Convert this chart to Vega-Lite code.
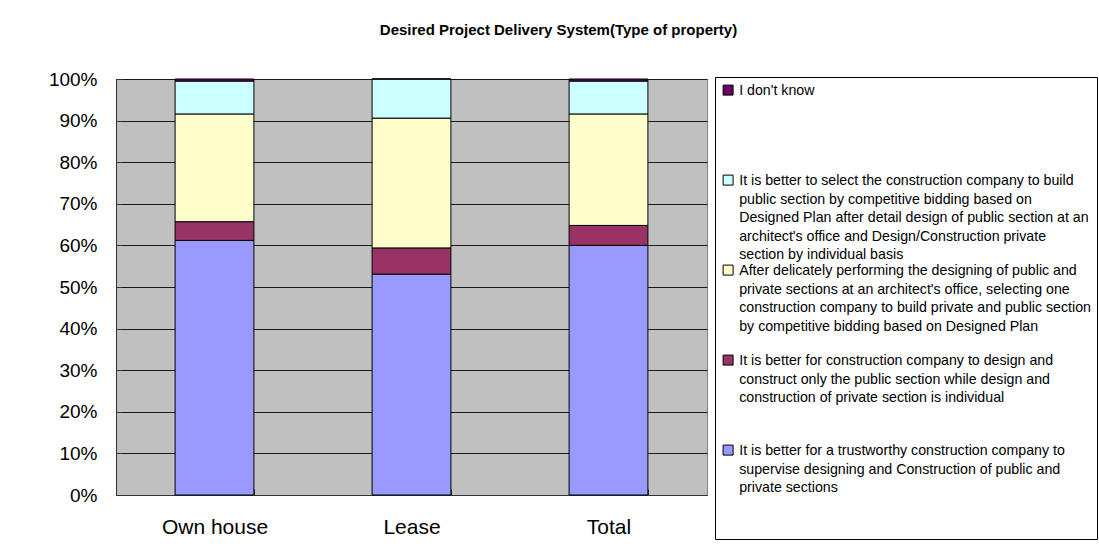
{
  "$schema": "https://vega.github.io/schema/vega-lite/v6.json",
  "width": 591,
  "height": 416,
  "autosize": "none",
  "padding": {"left": 116, "top": 79, "right": 392, "bottom": 55},
  "background": "white",
  "title": {
    "text": "Desired Project Delivery System(Type of property)",
    "anchor": "middle",
    "frame": "group",
    "dx": 147,
    "offset": 32,
    "font": "Liberation Sans",
    "fontSize": 15,
    "fontWeight": "bold",
    "color": "black"
  },
  "data": {
    "values": [
      {"property": "Own house", "response": "It is better for a trustworthy construction company to|supervise designing and Construction of public and|private sections", "order": 1, "value": 61.2},
      {"property": "Own house", "response": "It is better for construction company to design and|construct only the public section while design and|construction of private section is individual", "order": 2, "value": 4.5},
      {"property": "Own house", "response": "After delicately performing the designing of public and|private sections at an architect's office, selecting one|construction company to build private and public section|by competitive bidding based on Designed Plan", "order": 3, "value": 25.9},
      {"property": "Own house", "response": "It is better to select the construction company to build|public section by competitive bidding based on|Designed Plan after detail design of public section at an|architect's office and Design/Construction private|section by individual basis", "order": 4, "value": 7.9},
      {"property": "Own house", "response": "I don't know", "order": 5, "value": 0.5},
      {"property": "Lease", "response": "It is better for a trustworthy construction company to|supervise designing and Construction of public and|private sections", "order": 1, "value": 53.1},
      {"property": "Lease", "response": "It is better for construction company to design and|construct only the public section while design and|construction of private section is individual", "order": 2, "value": 6.3},
      {"property": "Lease", "response": "After delicately performing the designing of public and|private sections at an architect's office, selecting one|construction company to build private and public section|by competitive bidding based on Designed Plan", "order": 3, "value": 31.2},
      {"property": "Lease", "response": "It is better to select the construction company to build|public section by competitive bidding based on|Designed Plan after detail design of public section at an|architect's office and Design/Construction private|section by individual basis", "order": 4, "value": 9.4},
      {"property": "Lease", "response": "I don't know", "order": 5, "value": 0},
      {"property": "Total", "response": "It is better for a trustworthy construction company to|supervise designing and Construction of public and|private sections", "order": 1, "value": 60.0},
      {"property": "Total", "response": "It is better for construction company to design and|construct only the public section while design and|construction of private section is individual", "order": 2, "value": 4.8},
      {"property": "Total", "response": "After delicately performing the designing of public and|private sections at an architect's office, selecting one|construction company to build private and public section|by competitive bidding based on Designed Plan", "order": 3, "value": 26.8},
      {"property": "Total", "response": "It is better to select the construction company to build|public section by competitive bidding based on|Designed Plan after detail design of public section at an|architect's office and Design/Construction private|section by individual basis", "order": 4, "value": 7.9},
      {"property": "Total", "response": "I don't know", "order": 5, "value": 0.5}
    ]
  },
  "mark": {"type": "bar", "stroke": "black", "strokeWidth": 1},
  "encoding": {
    "x": {
      "field": "property",
      "type": "nominal",
      "sort": ["Own house", "Lease", "Total"],
      "scale": {"paddingInner": 0.6, "paddingOuter": 0.3},
      "axis": {
        "title": null,
        "labelAngle": 0,
        "tickBand": "extent",
        "tickSize": -6,
        "tickColor": "#333333",
        "domainColor": "#333333",
        "labelFont": "Liberation Sans",
        "labelFontSize": 21,
        "labelColor": "black",
        "labelPadding": 27
      }
    },
    "y": {
      "field": "value",
      "type": "quantitative",
      "stack": "zero",
      "scale": {"domain": [0, 100], "nice": false},
      "axis": {
        "title": null,
        "values": [0, 10, 20, 30, 40, 50, 60, 70, 80, 90, 100],
        "labelExpr": "datum.value + '%'",
        "labelFont": "Liberation Sans",
        "labelFontSize": 19,
        "labelColor": "black",
        "tickSize": -5,
        "tickColor": "#333333",
        "domainColor": "#333333",
        "labelPadding": 24,
        "grid": true,
        "gridColor": "#1a1a1a",
        "gridWidth": 1
      }
    },
    "color": {
      "field": "response",
      "type": "nominal",
      "scale": {
        "domain": [
          "I don't know",
          "It is better to select the construction company to build|public section by competitive bidding based on|Designed Plan after detail design of public section at an|architect's office and Design/Construction private|section by individual basis",
          "After delicately performing the designing of public and|private sections at an architect's office, selecting one|construction company to build private and public section|by competitive bidding based on Designed Plan",
          "It is better for construction company to design and|construct only the public section while design and|construction of private section is individual",
          "It is better for a trustworthy construction company to|supervise designing and Construction of public and|private sections"
        ],
        "range": ["#660066", "#CCFFFF", "#FFFFCC", "#993366", "#9999FF"]
      },
      "legend": {
        "orient": "none",
        "legendX": 599,
        "legendY": -2,
        "title": null,
        "strokeColor": "black",
        "fillColor": "white",
        "padding": 6,
        "symbolType": "square",
        "symbolSize": 100,
        "symbolStrokeColor": "black",
        "symbolStrokeWidth": 1,
        "symbolOffset": 0,
        "labelOffset": 4,
        "labelFont": "Liberation Sans",
        "labelFontSize": 14.2,
        "labelColor": "black",
        "labelLimit": 1000,
        "labelBaseline": "top",
        "rowPadding": 0,
        "labelExpr": "slice(split(datum.label + '|||||', '|'), 0, 5)",
        "encode": {"labels": {"update": {"lineHeight": {"value": 18.6}, "dy": {"value": -6}}}}
      }
    },
    "order": {"field": "order", "type": "quantitative"}
  },
  "config": {
    "view": {"fill": "#C0C0C0", "stroke": "#808080"},
    "style": {"guide-label": {"lineHeight": 18.6}}
  }
}
